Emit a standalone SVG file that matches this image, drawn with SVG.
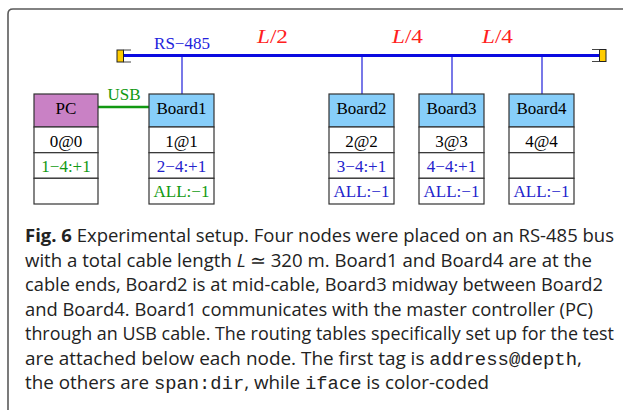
<svg xmlns="http://www.w3.org/2000/svg" width="623" height="410" viewBox="0 0 623 410">
<style>
.hdr{font-family:"Liberation Serif",serif;font-size:17px;text-anchor:middle;fill:#000}
.row{font-family:"Liberation Serif",serif;font-size:17px;text-anchor:middle}
.k{fill:#000}.g{fill:#119911}.b{fill:#2222cc}
.box{fill:#fff;stroke:#333;stroke-width:1.2}
.pc{fill:#c981c5;stroke:#333;stroke-width:1.2}
.bd{fill:#87cefa;stroke:#333;stroke-width:1.2}
.drop{stroke:#7878e8;stroke-width:2;fill:none}
.math{font-family:"Liberation Serif",serif;font-size:19.5px;fill:#ff2020}
.cap{font-family:"Open Sans",sans-serif;font-size:18.5px;fill:#222}
.mono{font-family:"Liberation Mono",monospace}
</style>
<path d="M8,410 V14 Q8,9 13,9 H623" fill="none" stroke="#5a5a5a" stroke-width="1.6"/>
<g id="connectors">
  <line x1="124" y1="55.5" x2="599" y2="55.5" stroke="#0a0ae0" stroke-width="3"/>
  <line class="drop" x1="182" y1="57" x2="182" y2="94"/>
  <line class="drop" x1="362" y1="57" x2="362" y2="94"/>
  <line class="drop" x1="452" y1="57" x2="452" y2="94"/>
  <line class="drop" x1="542" y1="57" x2="542" y2="94"/>
  <line x1="98" y1="107" x2="149" y2="107" stroke="#119911" stroke-width="2.5"/>
  <text x="182" y="49" font-family="Liberation Serif,serif" font-size="17" fill="#2222dd" text-anchor="middle">RS−485</text>
  <text x="124" y="100" font-family="Liberation Serif,serif" font-size="17" fill="#119911" text-anchor="middle">USB</text>
  <text class="math" x="257" y="43" textLength="31" lengthAdjust="spacingAndGlyphs"><tspan font-style="italic">L</tspan>/2</text>
  <text class="math" x="392" y="43" textLength="31" lengthAdjust="spacingAndGlyphs"><tspan font-style="italic">L</tspan>/4</text>
  <text class="math" x="482" y="43" textLength="31" lengthAdjust="spacingAndGlyphs"><tspan font-style="italic">L</tspan>/4</text>
</g>
<g id="term-left">
  <rect x="117" y="50" width="6.5" height="12" fill="#ffcc00" stroke="#222" stroke-width="1"/>
  <path d="M123.5,50 H131 M123.5,62 H131" stroke="#444" stroke-width="1"/>
</g>
<g id="term-right">
  <rect x="599.5" y="49.5" width="6.5" height="12" fill="#ffcc00" stroke="#222" stroke-width="1"/>
  <path d="M592,49.5 H599.5 M592,61.5 H599.5" stroke="#444" stroke-width="1"/>
</g>
<g id="pc">
  <rect class="pc" x="34" y="94" width="64" height="33"/>
  <rect class="box" x="34" y="127" width="64" height="25.7"/>
  <rect class="box" x="34" y="152.7" width="64" height="25.6"/>
  <rect class="box" x="34" y="178.3" width="64" height="25.7"/>
  <text class="hdr" x="66" y="113.5">PC</text>
  <text class="row k" x="66" y="146.7">0@0</text>
  <text class="row g" x="66" y="171.7">1−4:+1</text>
</g>
<g id="board1">
  <rect class="bd" x="149" y="94" width="65" height="33"/>
  <rect class="box" x="149" y="127" width="65" height="25.7"/>
  <rect class="box" x="149" y="152.7" width="65" height="25.6"/>
  <rect class="box" x="149" y="178.3" width="65" height="25.7"/>
  <text class="hdr" x="181.5" y="113.5">Board1</text>
  <text class="row k" x="181.5" y="146.7">1@1</text>
  <text class="row b" x="181.5" y="171.7">2−4:+1</text>
  <text class="row g" x="181.5" y="197.3">ALL:−1</text>
</g>
<g id="board2">
  <rect class="bd" x="329" y="94" width="65" height="33"/>
  <rect class="box" x="329" y="127" width="65" height="25.7"/>
  <rect class="box" x="329" y="152.7" width="65" height="25.6"/>
  <rect class="box" x="329" y="178.3" width="65" height="25.7"/>
  <text class="hdr" x="361.5" y="113.5">Board2</text>
  <text class="row k" x="361.5" y="146.7">2@2</text>
  <text class="row b" x="361.5" y="171.7">3−4:+1</text>
  <text class="row b" x="361.5" y="197.3">ALL:−1</text>
</g>
<g id="board3">
  <rect class="bd" x="419" y="94" width="65" height="33"/>
  <rect class="box" x="419" y="127" width="65" height="25.7"/>
  <rect class="box" x="419" y="152.7" width="65" height="25.6"/>
  <rect class="box" x="419" y="178.3" width="65" height="25.7"/>
  <text class="hdr" x="451.5" y="113.5">Board3</text>
  <text class="row k" x="451.5" y="146.7">3@3</text>
  <text class="row b" x="451.5" y="171.7">4−4:+1</text>
  <text class="row b" x="451.5" y="197.3">ALL:−1</text>
</g>
<g id="board4">
  <rect class="bd" x="509" y="94" width="65" height="33"/>
  <rect class="box" x="509" y="127" width="65" height="25.7"/>
  <rect class="box" x="509" y="152.7" width="65" height="25.6"/>
  <rect class="box" x="509" y="178.3" width="65" height="25.7"/>
  <text class="hdr" x="541.5" y="113.5">Board4</text>
  <text class="row k" x="541.5" y="146.7">4@4</text>
  <text class="row b" x="541.5" y="197.3">ALL:−1</text>
</g>
<g id="caption" transform="scale(0.95,1)">
  <text class="cap" x="26.32" y="242.5" textLength="620" lengthAdjust="spacingAndGlyphs"><tspan font-weight="bold">Fig. 6</tspan> Experimental setup. Four nodes were placed on an RS-485 bus</text>
  <text class="cap" x="26.32" y="267" textLength="596.8" lengthAdjust="spacingAndGlyphs">with a total cable length <tspan font-style="italic">L</tspan> ≃ 320 m. Board1 and Board4 are at the</text>
  <text class="cap" x="26.32" y="291.5" textLength="608.4" lengthAdjust="spacingAndGlyphs">cable ends, Board2 is at mid-cable, Board3 midway between Board2</text>
  <text class="cap" x="26.32" y="316" textLength="597.9" lengthAdjust="spacingAndGlyphs">and Board4. Board1 communicates with the master controller (PC)</text>
  <text class="cap" x="26.32" y="340.5" textLength="620" lengthAdjust="spacingAndGlyphs">through an USB cable. The routing tables specifically set up for the test</text>
  <text class="cap" x="26.32" y="365" textLength="586.3" lengthAdjust="spacingAndGlyphs">are attached below each node. The first tag is <tspan class="mono">address@depth</tspan>,</text>
  <text class="cap" x="26.32" y="389.5" textLength="488.4" lengthAdjust="spacingAndGlyphs">the others are <tspan class="mono">span:dir</tspan>, while <tspan class="mono">iface</tspan> is color-coded</text>
</g>
</svg>
